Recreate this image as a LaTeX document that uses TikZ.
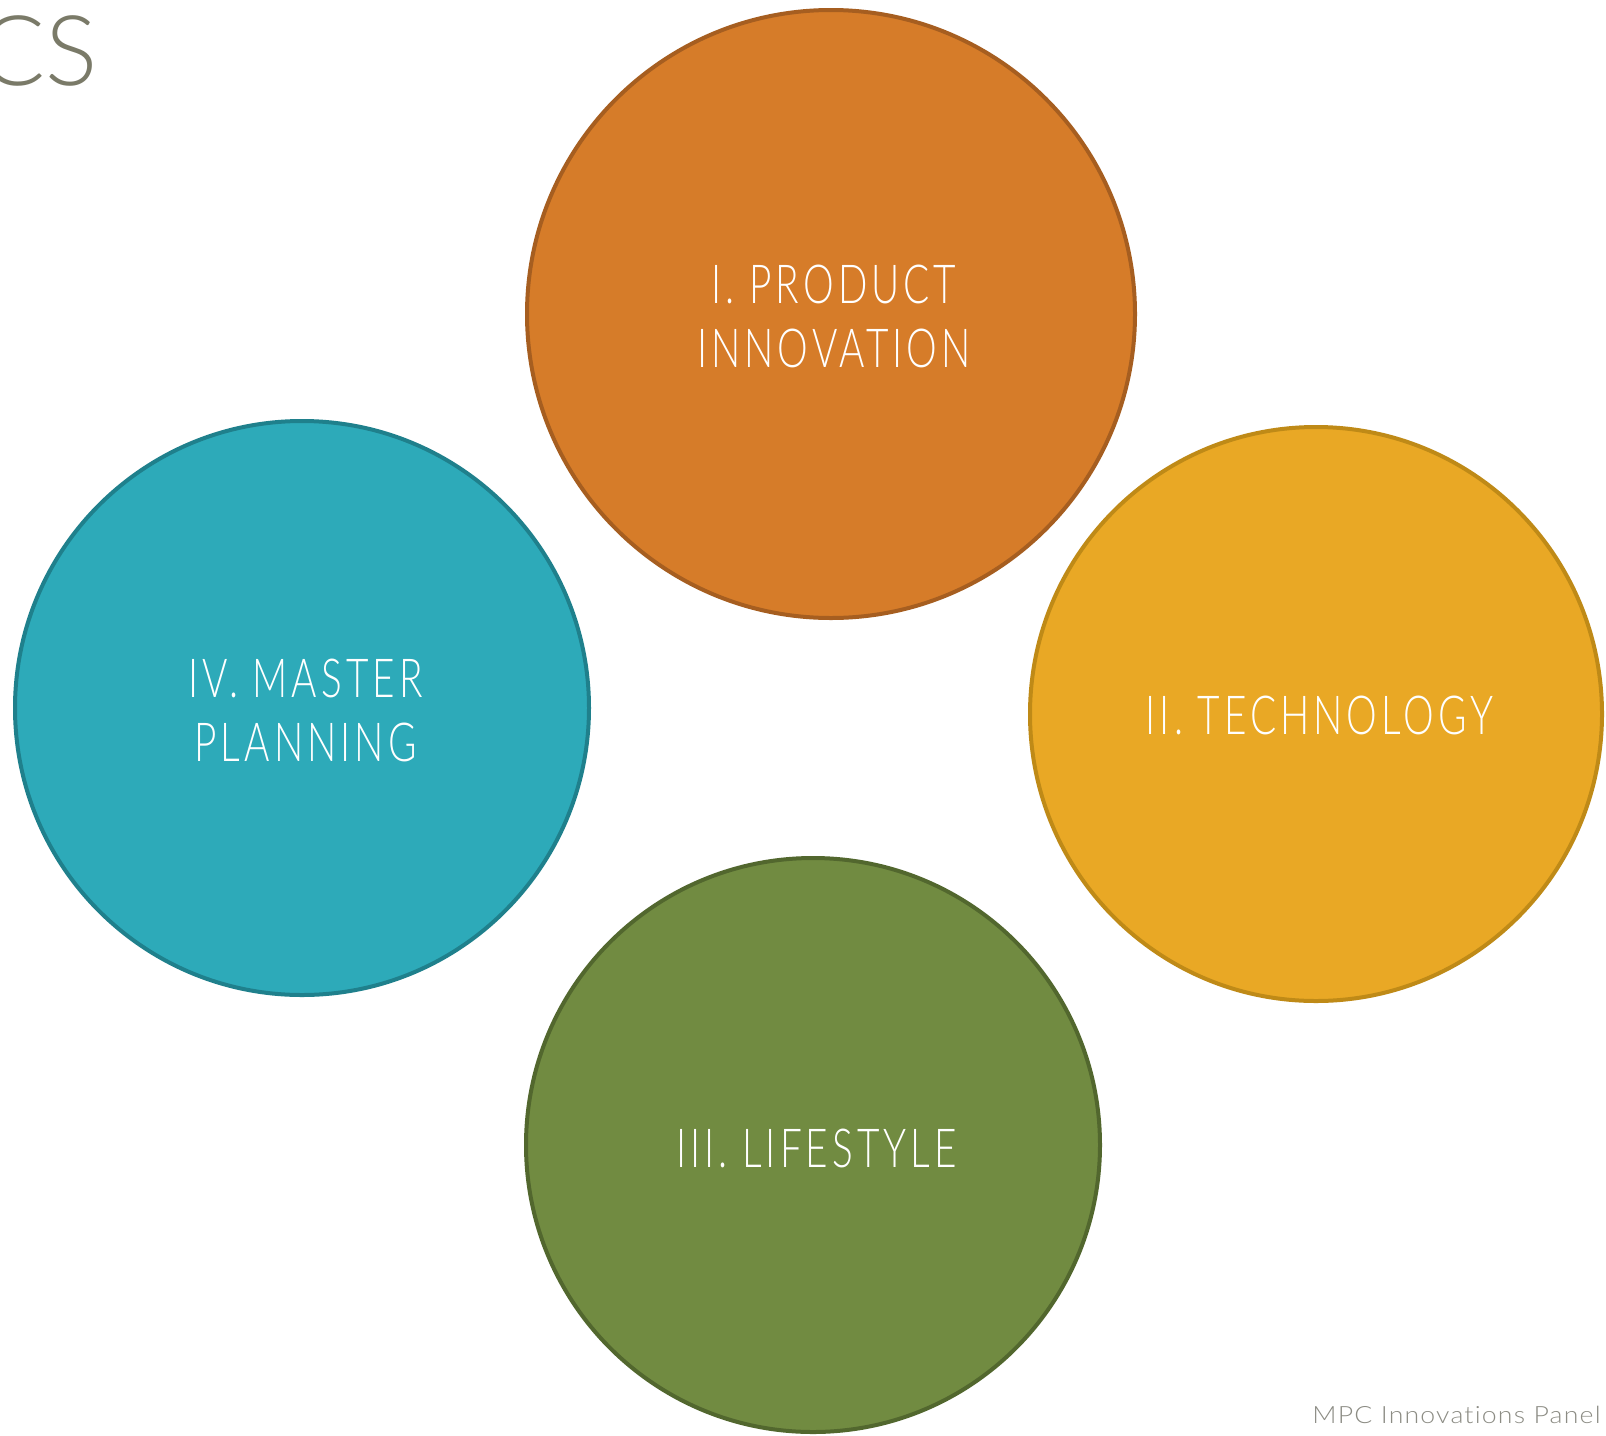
\documentclass[tikz,border=0pt]{standalone}
\usepackage{fontspec}
\newfontfamily\lf{Lato Light}[FakeStretch=0.72,LetterSpace=7.5,Ligatures={NoCommon}]
\newfontfamily\lfw{Lato Light}
\newfontfamily\lff{Lato Light}[FakeStretch=1.12,LetterSpace=5,Ligatures={NoCommon}]
\definecolor{orfill}{HTML}{D67C29}
\definecolor{ordraw}{HTML}{A65E20}
\definecolor{yefill}{HTML}{E9A825}
\definecolor{yedraw}{HTML}{BF8A17}
\definecolor{grfill}{HTML}{718B41}
\definecolor{grdraw}{HTML}{52672E}
\definecolor{tefill}{HTML}{2DAAB9}
\definecolor{tedraw}{HTML}{1F808C}
\definecolor{titlecol}{HTML}{7A7A68}
\definecolor{footcol}{HTML}{8C8C84}
\begin{document}
\begin{tikzpicture}[x=0.5pt,y=-0.5pt,
  blob/.style={line width=2pt},
  lbl/.style={text=white,font=\lf\fontsize{26.9}{32}\selectfont,align=center,inner sep=0pt}]
\useasboundingbox (0,0) rectangle (1606,1435);
\clip (0,0) rectangle (1606,1435);
\fill[white] (0,0) rectangle (1606,1435);
\path[blob,fill=orfill,draw=ordraw] (831,314) ellipse [x radius=304,y radius=304];
\path[blob,fill=yefill,draw=yedraw] (1316,714) ellipse [x radius=286,y radius=287];
\path[blob,fill=grfill,draw=grdraw] (813,1145) ellipse [x radius=287,y radius=287];
\path[blob,fill=tefill,draw=tedraw] (302,708) ellipse [x radius=287,y radius=287];
\node[lbl] (p1) at (834,316) {I. PRODUCT\\INNOVATION};
\node[lbl] (p2) at (1319.5,715) {II. TECHNOLOGY};
\node[lbl] (p3) at (816.5,1148) {III. LIFESTYLE};
\node[lbl] (p4) at (305.5,710.5) {IV. MASTER\\PLANNING};
\node[anchor=base east,inner sep=0pt,text=titlecol,font=\lfw\fontsize{48.8}{49}\selectfont] (title) at (98,85) {CS};
\node[anchor=base east,inner sep=0pt,text=footcol,font=\lff\fontsize{11.9}{12}\selectfont] (foot) at (1601,1423) {MPC Innovations Panel};
\end{tikzpicture}
\end{document}
